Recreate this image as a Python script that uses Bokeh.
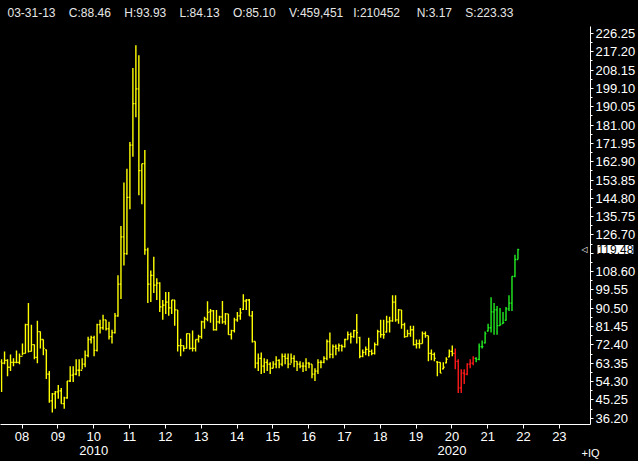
import pandas as pd
from bokeh.plotting import figure
from bokeh.models import ColumnDataSource, FixedTicker, Label, Range1d, NumeralTickFormatter
from bokeh.embed import file_html
from bokeh.resources import INLINE

# ---------------- data (monthly OHLC, Jun 2007 .. Nov 2021) ----------------
first_month = "2007-06-01"

opens = [
    64.0, 63.4, 64.8, 61.4, 63.8, 63.8, 63.8,                                   # 2007 Jun-Dec
    66.8, 68.2, 82.4, 69.2, 72.6, 66.3, 79.0, 75.1, 70.0, 58.0, 44.8, 48.2,     # 2008
    49.2, 49.7, 43.4, 46.3, 54.6, 57.5, 58.0, 59.9, 59.9, 62.9, 67.3, 75.1,     # 2009
    76.0, 69.7, 82.4, 80.9, 84.8, 80.4, 76.5, 78.5, 86.8, 102.4, 125.8, 117.5,  # 2010
    145.3, 171.1, 191.6, 198.9, 158.5, 161.9, 119.4, 102.4, 106.8, 101.9, 102.9, 91.2,  # 2011
    92.1, 93.6, 90.7, 94.6, 89.7, 72.1, 72.1, 70.7, 78.0, 70.7, 70.7, 75.1,     # 2012
    76.5, 83.8, 85.10, 88.7, 89.2, 79.9, 83.8, 86.3, 83.8, 87.7, 77.5, 79.5,    # 2013
    84.8, 86.8, 90.0, 94.1, 94.6, 86.8, 74.1, 63.4, 65.8, 61.9, 63.8, 62.9,     # 2014
    60.9, 62.9, 64.8, 62.9, 66.8, 65.8, 62.9, 65.8, 64.3, 62.9, 61.9, 61.9,     # 2015
    63.4, 62.9, 58.0, 59.5, 63.8, 63.8, 65.8, 74.1, 67.7, 71.6, 70.7, 72.1,     # 2016
    71.6, 75.1, 77.5, 76.5, 79.5, 76.0, 66.8, 68.7, 70.2, 69.2, 68.2, 72.6,     # 2017
    79.0, 77.5, 78.8, 83.8, 84.3, 93.6, 84.8, 89.7, 82.4, 76.5, 78.0, 79.9,     # 2018
    72.6, 73.1, 73.1, 78.0, 77.0, 68.2, 67.7, 64.0, 63.8, 60.6, 63.6, 66.5,     # 2019
    69.2, 68.2, 64.3, 51.2, 58.5, 58.0, 62.9, 63.4, 65.8, 65.3, 71.6, 73.4,     # 2020
    79.3, 80.9, 88.7, 89.7, 81.9, 83.0, 84.6, 90.2, 93.1, 106.3, 114.6,         # 2021 Jan-Nov
]
highs = [
    65.3, 69.2, 65.3, 67.7, 65.8, 69.7, 68.2,
    73.1, 82.9, 93.1, 82.4, 72.6, 84.3, 79.0, 75.1, 70.2, 59.5, 48.7, 49.7,
    52.6, 51.2, 46.8, 54.6, 61.9, 61.9, 65.3, 65.3, 65.8, 69.7, 76.5, 77.0,
    77.0, 82.9, 84.8, 87.3, 84.8, 83.8, 79.9, 88.2, 106.8, 131.1, 152.6, 159.4,
    172.6, 209.2, 220.4, 215.5, 161.9, 168.7, 120.4, 109.2, 116.0, 105.3, 103.4, 94.6,
    98.5, 98.5, 94.6, 94.6, 89.7, 75.5, 72.1, 78.0, 78.0, 79.5, 75.1, 77.5,
    84.3, 86.3, 93.93, 90.2, 89.7, 89.7, 86.8, 94.1, 88.2, 87.7, 79.9, 85.8,
    88.7, 90.7, 97.5, 95.1, 95.1, 89.2, 74.1, 68.2, 68.7, 65.8, 65.3, 63.8,
    64.3, 66.8, 65.3, 68.2, 68.2, 68.2, 68.2, 67.3, 64.3, 64.3, 63.8, 65.8,
    63.8, 62.9, 60.9, 65.3, 64.8, 66.8, 75.1, 78.5, 72.6, 72.6, 73.1, 72.6,
    75.5, 79.0, 78.5, 79.9, 87.7, 76.5, 70.2, 71.6, 76.0, 70.2, 73.6, 79.9,
    84.8, 84.8, 86.8, 86.3, 97.0, 97.0, 90.2, 89.7, 83.4, 79.9, 81.9, 81.9,
    75.1, 75.1, 79.0, 79.0, 77.0, 70.2, 68.7, 64.3, 63.8, 63.8, 66.3, 70.2,
    72.1, 70.7, 65.3, 60.4, 60.4, 63.4, 65.3, 66.8, 66.3, 73.1, 74.6, 79.0,
    82.9, 96.0, 93.1, 91.6, 90.7, 88.7, 91.2, 97.0, 106.3, 117.0, 119.9,
]
lows = [
    49.2, 62.9, 57.0, 59.5, 61.9, 63.4, 62.9,
    67.3, 68.2, 68.7, 69.2, 65.3, 63.4, 70.7, 67.3, 55.6, 43.9, 39.0, 40.9,
    45.8, 43.4, 40.9, 45.8, 54.1, 54.1, 57.5, 57.0, 60.4, 61.4, 66.3, 73.1,
    66.8, 69.2, 78.0, 79.9, 79.5, 75.1, 73.1, 78.0, 86.3, 95.1, 111.6, 117.0,
    139.4, 165.3, 184.8, 146.3, 141.9, 117.0, 93.1, 93.6, 98.0, 94.6, 88.7, 84.8,
    87.7, 86.8, 87.7, 81.9, 69.2, 66.8, 69.2, 70.7, 70.2, 69.2, 69.2, 73.6,
    75.5, 80.4, 84.13, 83.4, 79.5, 79.5, 82.9, 82.9, 82.4, 77.5, 75.1, 78.5,
    83.8, 84.8, 89.7, 89.7, 86.8, 73.6, 60.9, 59.5, 58.0, 58.5, 59.5, 58.0,
    60.9, 60.9, 60.9, 61.9, 62.9, 60.9, 63.4, 61.4, 59.5, 60.9, 59.0, 59.5,
    60.9, 56.0, 54.6, 58.0, 60.9, 63.4, 64.8, 65.8, 65.8, 67.3, 69.2, 69.2,
    71.2, 75.1, 73.1, 76.0, 73.1, 65.8, 66.3, 67.3, 66.8, 67.3, 67.7, 72.1,
    76.0, 75.5, 78.5, 78.5, 83.8, 83.8, 82.9, 80.4, 76.0, 76.5, 76.5, 72.1,
    70.7, 70.7, 73.1, 76.0, 64.3, 64.8, 64.3, 57.0, 58.5, 60.4, 63.4, 66.3,
    66.8, 60.4, 48.7, 48.7, 53.1, 57.5, 60.9, 62.4, 63.8, 64.8, 70.7, 73.1,
    79.0, 78.5, 77.5, 77.5, 81.9, 82.9, 84.3, 89.2, 89.2, 105.8, 114.6,
]
closes = [
    63.4, 64.8, 61.4, 63.8, 63.8, 63.8, 66.8,
    68.2, 82.4, 69.2, 72.6, 66.3, 79.0, 75.1, 70.7, 58.0, 44.8, 48.2, 49.2,
    49.7, 43.4, 46.3, 54.6, 57.5, 58.0, 59.9, 59.9, 62.9, 67.3, 75.1, 76.0,
    69.7, 82.4, 80.9, 84.8, 80.4, 76.5, 78.5, 86.8, 102.4, 125.8, 117.5, 145.3,
    171.1, 191.6, 198.9, 158.5, 161.9, 119.4, 102.4, 106.8, 101.9, 102.9, 91.2, 92.1,
    93.6, 90.7, 94.6, 89.7, 72.1, 72.1, 70.7, 78.0, 70.7, 70.7, 75.1, 76.5,
    83.8, 85.3, 88.46, 89.2, 79.9, 83.8, 86.3, 83.8, 87.7, 77.5, 79.5, 84.8,
    86.8, 88.2, 94.1, 94.6, 86.8, 74.1, 63.4, 65.8, 61.9, 63.8, 62.9, 60.9,
    62.9, 64.8, 62.9, 66.8, 65.8, 62.9, 65.8, 64.3, 62.9, 61.9, 61.9, 63.4,
    62.9, 58.0, 59.5, 63.8, 63.8, 65.8, 74.1, 67.7, 71.6, 70.7, 72.1, 71.6,
    75.1, 77.5, 76.5, 79.5, 78.5, 66.8, 68.7, 70.2, 69.2, 68.2, 72.6, 79.0,
    77.5, 77.5, 83.8, 84.3, 93.6, 84.8, 89.7, 82.4, 76.5, 78.0, 79.9, 72.6,
    73.1, 73.1, 78.0, 77.0, 68.2, 67.7, 65.8, 63.8, 58.5, 61.4, 65.3, 69.2,
    68.2, 64.3, 51.2, 58.5, 58.0, 62.9, 63.4, 65.8, 65.3, 71.6, 71.6, 78.0,
    80.9, 88.7, 89.7, 81.9, 82.4, 83.4, 90.2, 93.1, 106.3, 114.6, 119.48,
]

# colour regimes of the bars
red_from = "2020-02-01"
green_from = "2020-09-01"

# axis ticks
x_tick_years = list(range(2008, 2024))
x_tick_labels = ["08", "09", "10", "11", "12", "13", "14", "15",
                 "16", "17", "18", "19", "20", "21", "22", "23"]
decade_years = [2010, 2020]
y_tick_labels = ["36.20", "45.25", "54.30", "63.35", "72.40", "81.45", "90.50",
                 "99.55", "108.60", "117.65", "126.70", "135.75", "144.80",
                 "153.85", "162.90", "171.95", "181.00", "190.05", "199.10",
                 "208.15", "217.20", "226.25"]

# header read-out and corner tag
header_items = ["03-31-13", "C:88.46", "H:93.93", "L:84.13", "O:85.10",
                "V:459,451", "I:210452", "N:3.17", "S:223.33"]
corner_tag = "+IQ"

# ---------------- build ----------------
YELLOW, RED, GREEN = "#ffff00", "#ff1a1a", "#22ee22"
NB = "\u00a0"
dates = pd.date_range(first_month, periods=len(closes), freq="MS")
t = list(dates.year + (dates.month - 1) / 12.0 + 0.01)
colors = [GREEN if d >= pd.Timestamp(green_from) else RED if d >= pd.Timestamp(red_from) else YELLOW
          for d in dates]
TICK = 0.42 / 12.0

src = ColumnDataSource(dict(
    t=t, tl=[v - TICK for v in t], tr=[v + TICK for v in t],
    o=opens, h=highs, l=lows, c=closes, color=colors))

W, H = 638, 461
FW = 593
TOP, BOTTOM = 26, 32

p = figure(width=W, height=H, output_backend="svg", toolbar_location=None,
           x_range=Range1d(2007.397, 2023.869), y_range=Range1d(33.12, 229.66),
           y_axis_location="right", min_border_left=0, min_border_right=W - FW,
           min_border_top=TOP, min_border_bottom=BOTTOM)
p.background_fill_color = "black"
p.border_fill_color = "black"
p.outline_line_color = None
p.grid.visible = False
p.title.visible = False
try:
    p.styles = {"background-color": "black"}
except Exception:
    pass

p.segment("t", "l", "t", "h", source=src, color="color", line_width=1.4)
p.segment("tl", "o", "t", "o", source=src, color="color", line_width=1.3)
p.segment("t", "c", "tr", "c", source=src, color="color", line_width=1.3)

FONT = "Liberation Sans"

xa = p.xaxis[0]
xa.ticker = FixedTicker(ticks=x_tick_years, minor_ticks=[])
overrides = {yr: lab for yr, lab in zip(x_tick_years, x_tick_labels)}
for yr in decade_years:
    overrides[yr] = overrides[yr] + "\n" + str(yr)
xa.major_label_overrides = overrides
xa.major_label_text_align = "left"
xa.major_label_standoff = 0
xa.major_tick_in = 0
xa.major_tick_out = 4
xa.axis_line_color = "white"
xa.major_tick_line_color = "white"
xa.major_label_text_color = "white"
xa.major_label_text_font = FONT
xa.major_label_text_font_size = "13px"
xa.major_label_text_line_height = 0.95
# terminal corner tag, shown at the right end under the time axis
try:
    xa.axis_label_align = "end"
    xa.axis_label = corner_tag
    xa.axis_label_standoff = -14
    xa.axis_label_text_color = "white"
    xa.axis_label_text_font = FONT
    xa.axis_label_text_font_style = "normal"
    xa.axis_label_text_font_size = "11px"
except Exception:
    xa.axis_label = None

y_ticks = [float(s) for s in y_tick_labels]
minor = [a + (b - a) / 2 for a, b in zip(y_ticks[:-1], y_ticks[1:])]
ya = p.yaxis[0]
ya.ticker = FixedTicker(ticks=y_ticks, minor_ticks=minor)
ya.formatter = NumeralTickFormatter(format="0.00")
ya.major_label_overrides = {v: ("" if v == 117.65 else s) for v, s in zip(y_ticks, y_tick_labels)}
ya.major_label_standoff = 2
ya.major_tick_in = 0
ya.major_tick_out = 3
ya.minor_tick_in = 0
ya.minor_tick_out = 2
ya.axis_line_color = "white"
ya.major_tick_line_color = "white"
ya.minor_tick_line_color = "white"
ya.major_label_text_color = "white"
ya.major_label_text_font = FONT
ya.major_label_text_font_size = "13px"

last = closes[-1]

# little arrow pointing at the last price (inside the frame)
p.add_layout(Label(x=FW - 12, y=last, x_units="screen", y_units="data",
                   text="\u25c1", text_color="white", text_font="DejaVu Sans",
                   text_font_size="8px", text_baseline="middle"))

# header read-out (one line in the top border)
gaps = [4, 4, 4, 4, 4, 3, 5, 4]
header = header_items[0]
for g, item in zip(gaps, header_items[1:]):
    header += NB * g + item
p.add_layout(Label(x=7, y=14, x_units="screen", y_units="screen",
                   text=header, text_color="#e6e6e6", text_font=FONT,
                   text_font_size="12px", text_baseline="middle"), "above")

# last price box over the price scale
p.add_layout(Label(x=FW + 4, y=last, x_units="screen", y_units="data",
                   text=f"{last:.2f}", text_color="black", text_font=FONT,
                   text_font_size="12px", text_baseline="middle",
                   background_fill_color="white"), "above")

open("out.html", "w").write(file_html(p, INLINE))
